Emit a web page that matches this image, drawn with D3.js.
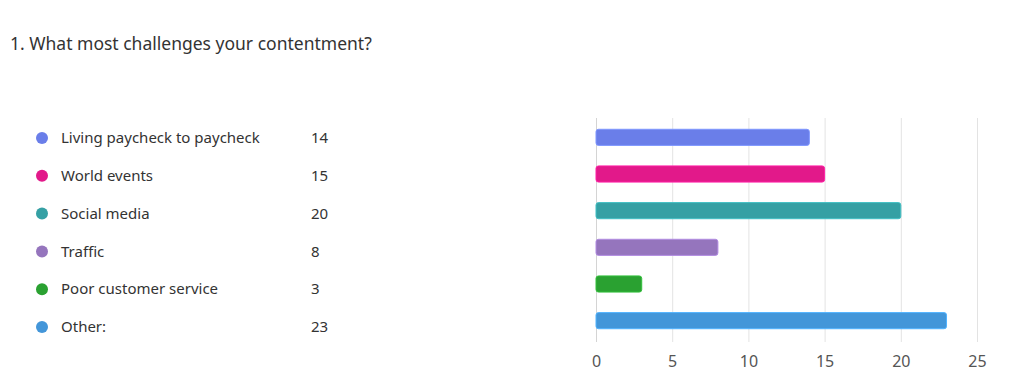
<!DOCTYPE html>
<html>
<head>
<meta charset="utf-8">
<script src="https://cdn.jsdelivr.net/npm/d3@7"></script>
<style>
  body { margin: 0; background: #fff; }
  text { font-family: "Noto Sans", "Open Sans", sans-serif; }
</style>
</head>
<body>
<script>
// data
var categories = ["Living paycheck to paycheck", "World events", "Social media", "Traffic", "Poor customer service", "Other:"];
var counts = [14, 15, 20, 8, 3, 23];
var colors = ["#6a7ee9", "#e2198a", "#35a0a4", "#9575bd", "#2aa131", "#4396d9"];
var xTicks = [0, 5, 10, 15, 20, 25];

var width = 1024, height = 391;

var svg = d3.select("body").append("svg")
    .attr("width", width)
    .attr("height", height);

// title
svg.append("text")
    .attr("x", 10)
    .attr("y", 50)
    .style("font-size", "17.5px")
    .attr("fill", "#333")
    .text("1. What most challenges your contentment?");

// legend
var legendY = d3.scalePoint()
    .domain(categories)
    .range([138, 327]);

var legend = svg.append("g");

legend.selectAll("circle")
    .data(categories)
    .enter().append("circle")
    .attr("cx", 42)
    .attr("cy", d => legendY(d))
    .attr("r", 6)
    .attr("fill", (d, i) => colors[i]);

legend.selectAll(".lbl")
    .data(categories)
    .enter().append("text")
    .attr("class", "lbl")
    .attr("x", 61)
    .attr("y", d => legendY(d))
    .attr("dy", "0.35em")
    .style("font-size", "15px")
    .attr("fill", "#333")
    .text(d => d);

legend.selectAll(".val")
    .data(categories)
    .enter().append("text")
    .attr("class", "val")
    .attr("x", 311)
    .attr("y", d => legendY(d))
    .attr("dy", "0.35em")
    .style("font-size", "15px")
    .attr("fill", "#333")
    .text((d, i) => counts[i]);

// bar chart
var x = d3.scaleLinear().domain([0, 25]).range([596, 977]);
var y = d3.scaleBand().domain(categories).range([119, 339]).paddingInner(0.56).paddingOuter(0.28);

// gridlines
svg.append("g").selectAll("line")
    .data(xTicks)
    .enter().append("line")
    .attr("x1", d => x(d) + 0.5)
    .attr("x2", d => x(d) + 0.5)
    .attr("y1", 118)
    .attr("y2", 342)
    .attr("stroke", d => d == 0 ? "#d4d4d4" : "#e3e3e3")
    .attr("stroke-width", 1);

// x axis
var xAxis = d3.axisBottom(x).tickValues(xTicks).tickSize(0).tickPadding(0);
var gx = svg.append("g")
    .attr("transform", "translate(0,356)")
    .call(xAxis);
gx.select(".domain").remove();
gx.selectAll("text")
    .style("font-size", "16px")
    .attr("fill", "#555");

// bars
svg.append("g").selectAll("rect")
    .data(categories)
    .enter().append("rect")
    .attr("x", x(0))
    .attr("y", d => y(d))
    .attr("width", (d, i) => x(counts[i]) - x(0))
    .attr("height", y.bandwidth())
    .attr("rx", 2.5)
    .attr("fill", (d, i) => colors[i])
    .attr("stroke", (d, i) => d3.color(colors[i]).brighter(0.5))
    .attr("stroke-width", 1);
</script>
</body>
</html>
